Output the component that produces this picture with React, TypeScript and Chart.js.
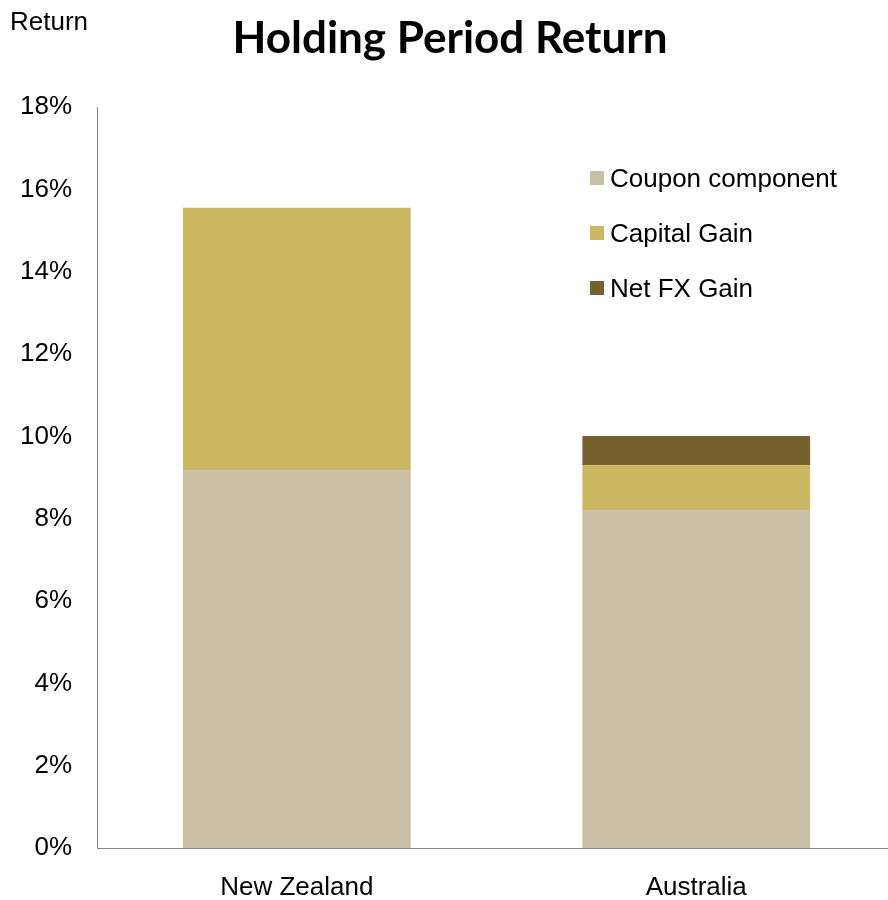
import React, { useEffect, useRef } from "react";
import { Chart, registerables } from "chart.js";

Chart.register(...registerables);

const categories = ["New Zealand", "Australia"];
const seriesNames = ["Coupon component", "Capital Gain", "Net FX Gain"];
const couponValues = [9.18, 8.21];
const capitalValues = [6.37, 1.09];
const fxValues = [0, 0.71];
const yTicksMax = 18;
const yStep = 2;
const colors = ["#C9BFA4", "#CBB662", "#76612E"];

const FONT = "'Liberation Sans', Arial, sans-serif";

const textPlugin = {
  id: "customText",
  afterDraw(chart: any) {
    const ctx = chart.ctx;
    ctx.save();
    ctx.fillStyle = "#000";
    ctx.textBaseline = "middle";
    ctx.textAlign = "left";
    ctx.font = "26px " + FONT;
    ctx.fillText("Return", 10, 23);
    ctx.textAlign = "center";
    ctx.font = "bold 44px Lato, 'Open Sans', sans-serif";
    ctx.fillText("Holding Period Return", 450, 39);
    // legend
    ctx.textAlign = "left";
    ctx.font = "26px " + FONT;
    const ys = [178, 233, 288];
    seriesNames.forEach((name, i) => {
      ctx.fillStyle = colors[i];
      ctx.fillRect(590, ys[i] - 7, 14, 14);
      ctx.fillStyle = "#000";
      ctx.fillText(name, 610, ys[i] + 2);
    });
    ctx.restore();
  },
};

const shiftPlugin = {
  id: "shiftX",
  afterLayout(chart: any) {
    const x = chart.scales.x;
    x.right = x.left + 799;
    x.width = 799;
    x.configure();
  },
};

export default function App() {
  const ref = useRef<HTMLCanvasElement | null>(null);
  useEffect(() => {
    document.body.style.margin = "0";
    if (!ref.current) return;
    const chart = new Chart(ref.current, {
      type: "bar",
      data: {
        labels: categories,
        datasets: [
          { label: seriesNames[0], data: couponValues, backgroundColor: colors[0] },
          { label: seriesNames[1], data: capitalValues, backgroundColor: colors[1] },
          { label: seriesNames[2], data: fxValues, backgroundColor: colors[2] },
        ],
      },
      options: {
        responsive: false,
        animation: false,
        layout: { padding: { top: 107, left: 0, right: 0, bottom: 0 } },
        plugins: { legend: { display: false }, title: { display: false }, tooltip: { enabled: false } },
        datasets: { bar: { categoryPercentage: 1, barPercentage: 0.57 } },
        scales: {
          x: {
            stacked: true,
            grid: { display: false, drawTicks: false },
            border: { display: true, color: "#868686", width: 1 },
            ticks: {
              color: "#000",
              padding: 24,
              font: { family: FONT, size: 26 },
            },
            afterFit: (s: any) => {
              s.height = 52;
            },
          },
          y: {
            stacked: true,
            min: 0,
            max: yTicksMax,
            grid: { display: false, drawTicks: false },
            border: { display: true, color: "#868686", width: 1 },
            ticks: {
              stepSize: yStep,
              color: "#000",
              padding: 25,
              font: { family: FONT, size: 26 },
              callback: (v: any) => v + "%",
            },
            afterFit: (s: any) => {
              s.width = 97;
            },
          },
        },
      },
      plugins: [textPlugin, shiftPlugin],
    });
    return () => chart.destroy();
  }, []);
  return <canvas ref={ref} width={888} height={900} style={{ display: "block" }} />;
}
